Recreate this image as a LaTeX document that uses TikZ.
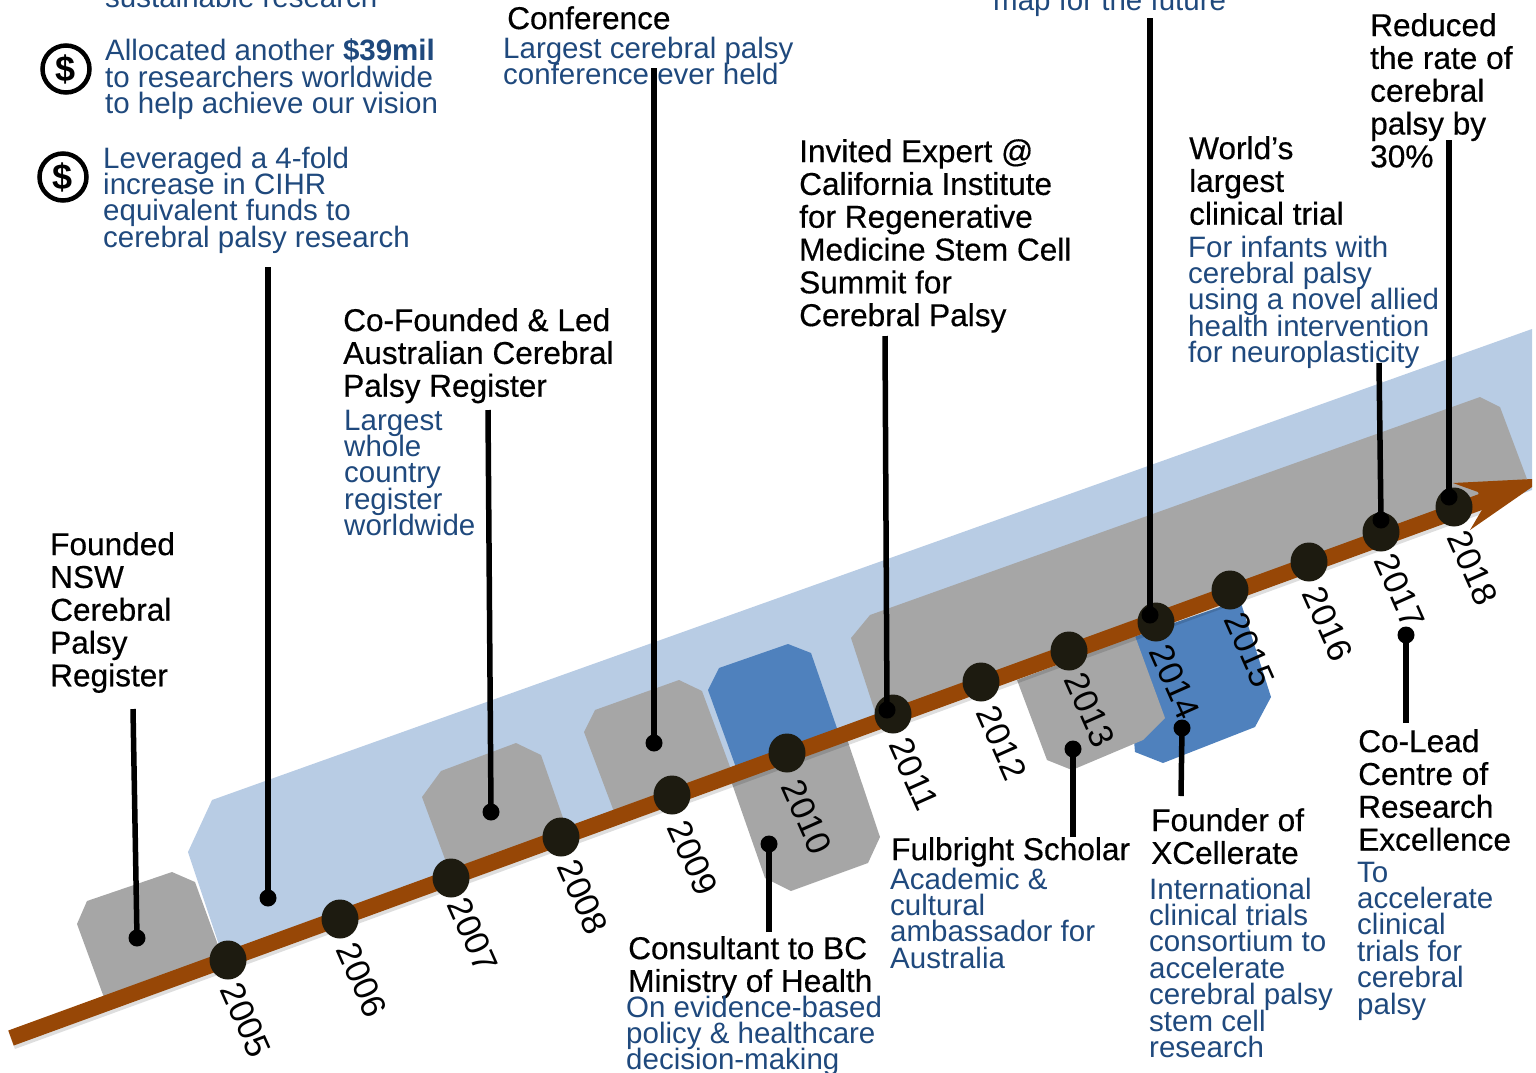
\documentclass[tikz,border=0pt]{standalone}
\usepackage{fontspec}
\setmainfont{Liberation Sans}
\newfontfamily\headfont[FakeBold=0.45]{Liberation Sans}
\usetikzlibrary{shapes.geometric}
\AtBeginDocument{\lineskiplimit=-30pt\relax}
\definecolor{lightband}{HTML}{B8CCE4}
\definecolor{midblue}{HTML}{4F81BD}
\definecolor{panelgray}{HTML}{A6A6A6}
\definecolor{arrowbrown}{HTML}{974706}
\definecolor{dotdark}{HTML}{1D1B10}
\definecolor{bluetext}{HTML}{1F497D}
\tikzset{
  head/.style={anchor=north west,inner sep=0pt,align=left,text=black,yshift=23pt,
    font=\fontsize{31.6}{32.8}\headfont},
  sub/.style={anchor=north west,inner sep=0pt,align=left,text=bluetext,yshift=21.5pt,
    font=\fontsize{29.5}{26.4}\selectfont},
  year/.style={inner sep=0pt,rotate=-66,text=black,font=\fontsize{34.5}{36}\selectfont},
  milestone/.style={ellipse,fill=dotdark,minimum width=37pt,minimum height=39pt,inner sep=0pt},
  stalkdot/.style={circle,fill=black,minimum size=17pt,inner sep=0pt},
  stalk/.style={draw=black,line width=5.5pt},
  panel/.style={fill=panelgray,draw=none},
  coin/.style={circle,draw=black,line width=4.5pt,minimum size=47pt,inner sep=0pt,
    font=\fontsize{36}{36}\selectfont\bfseries},
  shaft/.style={draw=arrowbrown,line width=16pt},
  shaftshadow/.style={draw=black,line width=17pt,opacity=0.13},
}
\begin{document}
\begin{tikzpicture}[x=1pt,y=-1pt]
\useasboundingbox (0,0) rectangle (1536,1072);
\clip (0,0) rectangle (1532,1072);
% bands and panels
\fill[lightband] (212,800) -- (1532,329) -- (1532,490) -- (228,960) -- (218,942) -- (188,852) -- cycle;
\fill[panel] (87,901) -- (172,872) -- (195,882) -- (218,945) -- (222,960) -- (106,1003) -- (77,924) -- cycle;
\fill[panel] (441,771) -- (516,743) -- (541,755) -- (569,835) -- (452,878) -- (422,797) -- cycle;
\fill[panel] (595,710) -- (679,680) -- (702,691) -- (733,775) -- (616,817) -- (584,732) -- cycle;
\fill[midblue] (719,668) -- (788,644) -- (811,653) -- (840,737) -- (738,773) -- (708,690) -- cycle;
\fill[panel] (729,775) -- (845,733) -- (880,837) -- (868,863) -- (791,891) -- (765,878) -- cycle;
\fill[panel] (870,615) -- (1480,397) -- (1500,407) -- (1527,479) -- (878,721) -- (851,638) -- cycle;
\fill[midblue] (1125,640) -- (1240,600) -- (1271,697) -- (1255,727) -- (1163,763) -- (1135,752) -- cycle;
\fill[panel] (1017,680) -- (1135,636) -- (1165,718) -- (1143,740) -- (1072,770) -- (1047,760) -- cycle;
% arrow
\coordinate (tailend) at (11,1038);
\coordinate (notch) at (1486,500);
\draw[shaftshadow] ([shift={(1,3)}]tailend) -- ([shift={(1,3)}]notch);
\draw[shaft] (tailend) -- (notch);
\fill[arrowbrown] (1453,483) -- (1532,479) -- (1532,487) -- (1470,530) -- (1483,508) -- (1478,492) -- cycle;
% milestones
\foreach \n/\x/\y in {2005/228/960,2006/340/919,2007/451/878,2008/561/837,2009/672/795,2010/787/753,2011/893/714,2012/981/682,2013/1069/651,2014/1156/622,2015/1230/590,2016/1309/562,2017/1381/532,2018/1454/507}
  \node[milestone] (m\n) at (\x,\y) {};
% year labels
\foreach \n/\x/\y in {2005/246/1020,2006/362/980,2007/473/935,2008/583/897,2009/693/858,2010/807/817,2011/914/774,2012/1002/743,2013/1090/710,2014/1175/682,2015/1250/650,2016/1328/624,2017/1400/591,2018/1473/568}
  \node[year] (y\n) at (\x,\y) {\n};
% clipped top text
\node[sub] (tsust) at (105,7) {sustainable research};
\node[sub] (tmap) at (993,10) {map for the future};
% text
\node[head] (tfounded) at (50,555) {Founded\\NSW\\Cerebral\\Palsy\\Register};
\node[head] (tcofound) at (343,331) {Co-Founded \& Led\\Australian Cerebral\\Palsy Register};
\node[sub] (tlargest) at (344,431) {Largest\\whole\\country\\register\\worldwide};
\node[head] (tconf) at (507,29) {Conference};
\node[sub] (tconfsub) at (503,58) {Largest cerebral palsy\\conference ever held};
\node[head] (tinvited) at (799,162) {Invited Expert @\\California Institute\\for Regenerative\\Medicine Stem Cell\\Summit for\\Cerebral Palsy};
\node[head] (tworld) at (1189,159) {World’s\\largest\\clinical trial};
\node[sub] (tworldsub) at (1188,257) {For infants with\\cerebral palsy\\using a novel allied\\health intervention\\for neuroplasticity};
\node[head] (treduced) at (1370,36) {Reduced\\the rate of\\cerebral\\palsy by\\30\%};
\node[sub] (talloc) at (105,60) {Allocated another \textbf{\$39mil}\\to researchers worldwide\\to help achieve our vision};
\node[sub] (tlever) at (103,168) {Leveraged a 4-fold\\increase in CIHR\\equivalent funds to\\cerebral palsy research};
\node[head] (tconsult) at (628,959) {Consultant to BC\\Ministry of Health};
\node[sub] (tconsultsub) at (626,1017) {On evidence-based\\policy \& healthcare\\decision-making};
\node[head] (tfulb) at (891,860) {Fulbright Scholar};
\node[sub] (tfulbsub) at (890,889) {Academic \&\\cultural\\ambassador for\\Australia};
\node[head] (txcel) at (1151,831) {Founder of\\XCellerate};
\node[sub] (txcelsub) at (1149,899) {International\\clinical trials\\consortium to\\accelerate\\cerebral palsy\\stem cell\\research};
\node[head] (tcolead) at (1358,752) {Co-Lead\\Centre of\\Research\\Excellence};
\node[sub] (tcoleadsub) at (1357,883) {To\\accelerate\\clinical\\trials for\\cerebral\\palsy};
% coins
\node[coin] (coina) at (66,69) {\$};
\node[coin] (coinb) at (63,177) {\$};
% stalks
\foreach \n/\ax/\ay/\bx/\by in {a/133/709/137/938,b/268/267/268/898,c/488/410/491/812,d/654/68/654/743,e/885/336/887/710,f/1150/18/1150/615,g/1379/363/1381/520,h/1449/140/1449/497,i/769/932/769/844,j/1073/837/1073/749,k/1181/796/1182/728,l/1406/723/1406/635}{
  \coordinate (free\n) at (\ax,\ay);
  \node[stalkdot] (end\n) at (\bx,\by) {};
  \draw[stalk] (free\n) -- (end\n.center);
}
\end{tikzpicture}
\end{document}
